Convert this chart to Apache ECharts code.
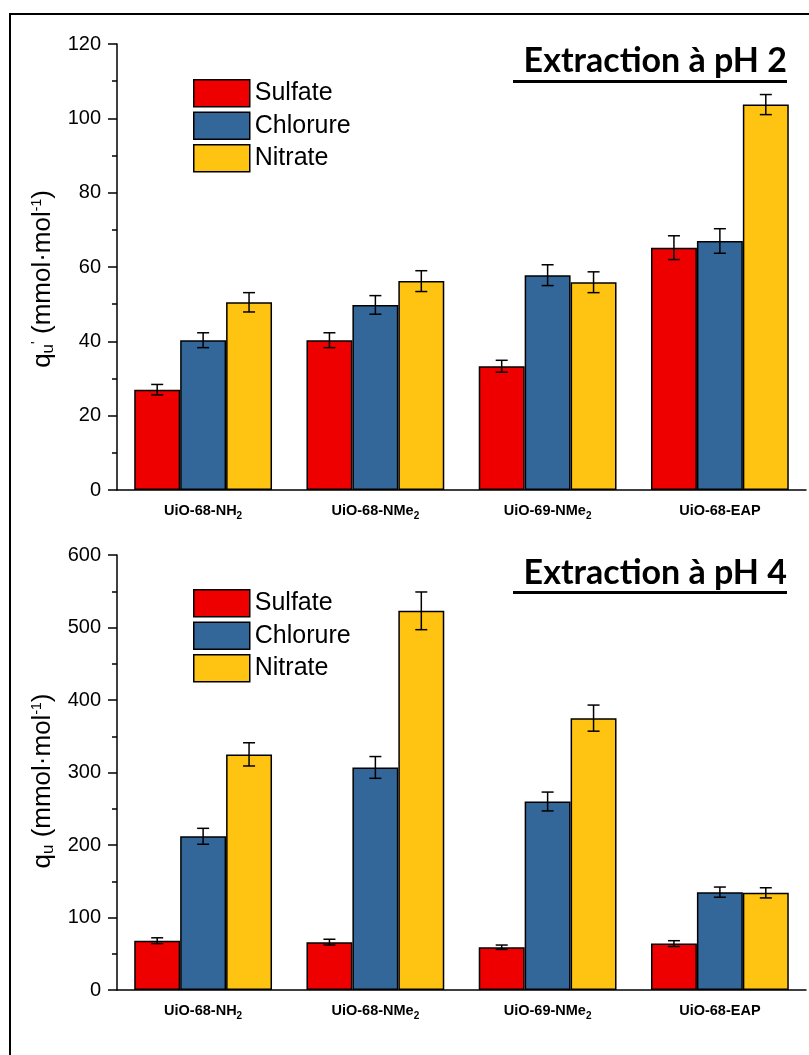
<!DOCTYPE html>
<html><head><meta charset="utf-8">
<script src="https://cdn.jsdelivr.net/npm/echarts@6/dist/echarts.min.js"></script>
<style>html,body{margin:0;padding:0;background:#fff}#c{width:809px;height:1055px}</style>
</head><body><div id="c"></div>
<script>
const categories = ['UiO-68-NH{s|2}', 'UiO-68-NMe{s|2}', 'UiO-69-NMe{s|2}', 'UiO-68-EAP'];
const seriesNames = ['Sulfate', 'Chlorure', 'Nitrate'];
// pH 2
const sulfate2 = [27.0, 40.3, 33.3, 65.2];
const chlorure2 = [40.3, 49.8, 57.8, 67.0];
const nitrate2 = [50.5, 56.2, 55.9, 103.7];
const sulfate2Err = [1.4, 2.0, 1.6, 3.2];
const chlorure2Err = [2.0, 2.5, 2.8, 3.3];
const nitrate2Err = [2.6, 2.8, 2.8, 2.7];
// pH 4
const sulfate4 = [68, 66, 59, 64];
const chlorure4 = [212, 307, 260, 135];
const nitrate4 = [325, 523, 375, 134];
const sulfate4Err = [4, 4, 3, 4];
const chlorure4Err = [11, 15, 13, 7];
const nitrate4Err = [16, 26, 18, 7];
const yTicks2 = {min: 0, max: 120, interval: 20};
const yTicks4 = {min: 0, max: 600, interval: 100};

const colors = ['#EE0000', '#336699', '#FFC312'];
const FONT = 'Liberation Sans';
const chart = echarts.init(document.getElementById('c'));

const gridTop = {left: 117, right: 3, top: 44, height: 446};
const gridBot = {left: 117, right: 3, top: 555, height: 435};

function xAxes(gi) {
  return [
    {type: 'category', gridIndex: gi, data: categories,
     axisLine: {lineStyle: {color: '#000', width: 1.5}},
     axisTick: {length: 5, lineStyle: {color: '#000', width: 1.5}},
     axisLabel: {show: false}},
    {type: 'category', gridIndex: gi, data: categories, position: 'bottom',
     axisLine: {show: false},
     axisTick: {alignWithLabel: true, length: 9, lineStyle: {color: '#000', width: 1.5}},
     axisLabel: {margin: 11, color: '#000', fontFamily: FONT, fontWeight: 'bold', fontSize: 14.5, lineHeight: 20,
       rich: {s: {fontSize: 10, fontWeight: 'bold', fontFamily: FONT, color: '#000', lineHeight: 20, verticalAlign: 'bottom'}}}}
  ];
}
function yAxis(gi, t, nameStr, shift) {
  return {type: 'value', gridIndex: gi, min: t.min, max: t.max, interval: t.interval,
    name: nameStr, nameLocation: 'middle', nameGap: 57,
    nameTextStyle: {fontFamily: FONT, fontSize: 26, color: '#000', padding: [0, shift, 0, 0],
      rich: {n: {fontSize: 26, fontFamily: FONT, color: '#000'},
             sub: {fontSize: 17, fontFamily: FONT, color: '#000', padding: [10, 0, 0, 0]},
             sup: {fontSize: 14, fontFamily: FONT, color: '#000', padding: [0, 0, 12, 0]}}},
    axisLine: {show: true, lineStyle: {color: '#000', width: 1.5}},
    axisTick: {show: true, length: 9, lineStyle: {color: '#000', width: 1.5}},
    minorTick: {show: true, splitNumber: 2, length: 5, lineStyle: {color: '#000', width: 1.5}},
    splitLine: {show: false},
    axisLabel: {margin: 16, color: '#000', fontFamily: FONT, fontSize: 20}};
}

function barSeries(name, data, idx, gi) {
  return {name, type: 'bar', xAxisIndex: gi * 2, yAxisIndex: gi, data,
    barGap: '0%', barCategoryGap: '20%',
    itemStyle: {color: colors[idx], borderColor: '#000', borderWidth: 1.5}};
}
function errSeries(vals, errs, idx, gi) {
  return {type: 'custom', xAxisIndex: gi * 2, yAxisIndex: gi, silent: true, z: 5,
    data: vals.map((v, i) => [i, v, errs[i]]),
    renderItem: function (params, api) {
      const cat = api.value(0), v = api.value(1), e = api.value(2);
      const bw = api.size([1, 0])[0] * 0.8 / 3;
      const base = api.coord([cat, v]);
      const x = base[0] + (idx - 1) * bw;
      const yHi = api.coord([cat, v + e])[1];
      const yLo = api.coord([cat, v - e])[1];
      const cw = 6;
      const st = {stroke: '#000', lineWidth: 1.5};
      return {type: 'group', children: [
        {type: 'line', shape: {x1: x, y1: yHi, x2: x, y2: yLo}, style: st},
        {type: 'line', shape: {x1: x - cw, y1: yHi, x2: x + cw, y2: yHi}, style: st},
        {type: 'line', shape: {x1: x - cw, y1: yLo, x2: x + cw, y2: yLo}, style: st}
      ]};
    }};
}

const titleStyle = {fontFamily: 'Lato', fontWeight: 'bold', fontSize: 34, color: '#000'};
const legendStyle = {fontFamily: FONT, fontSize: 25, color: '#000'};

function legend(top) {
  return {data: seriesNames.map(n => ({name: n, itemStyle: {borderColor: '#000', borderWidth: 1.5}})),
    orient: 'vertical', left: 193, top: top, padding: 0, itemWidth: 56, itemHeight: 27, itemGap: 4, icon: 'rect',
    textStyle: legendStyle, selectedMode: false};
}

chart.setOption({
  animation: false,
  title: [
    {text: 'Extraction à pH 2', right: 22, top: 44, padding: 0, textStyle: titleStyle},
    {text: 'Extraction à pH 4', right: 22, top: 556, padding: 0, textStyle: titleStyle}
  ],
  legend: [legend(79), legend(589)],
  grid: [gridTop, gridBot],
  xAxis: [...xAxes(0), ...xAxes(1)],
  yAxis: [
    yAxis(0, yTicks2, "{n|q}{sub|u}{sup|'}{n| (mmol·mol}{sup|-1}{n|)}", 24),
    yAxis(1, yTicks4, '{n|q}{sub|u}{n| (mmol·mol}{sup|-1}{n|)}', 17)
  ],
  series: [
    barSeries('Sulfate', sulfate2, 0, 0),
    barSeries('Chlorure', chlorure2, 1, 0),
    barSeries('Nitrate', nitrate2, 2, 0),
    errSeries(sulfate2, sulfate2Err, 0, 0),
    errSeries(chlorure2, chlorure2Err, 1, 0),
    errSeries(nitrate2, nitrate2Err, 2, 0),
    barSeries('Sulfate', sulfate4, 0, 1),
    barSeries('Chlorure', chlorure4, 1, 1),
    barSeries('Nitrate', nitrate4, 2, 1),
    errSeries(sulfate4, sulfate4Err, 0, 1),
    errSeries(chlorure4, chlorure4Err, 1, 1),
    errSeries(nitrate4, nitrate4Err, 2, 1)
  ],
  graphic: [
    {type: 'rect', shape: {x: 10, y: 14, width: 820, height: 1060}, style: {fill: 'none', stroke: '#000', lineWidth: 2}, silent: true},
    {type: 'rect', shape: {x: 513, y: 80, width: 274, height: 3}, style: {fill: '#000'}, silent: true},
    {type: 'rect', shape: {x: 513, y: 591, width: 274, height: 3}, style: {fill: '#000'}, silent: true}
  ]
});
</script></body></html>
